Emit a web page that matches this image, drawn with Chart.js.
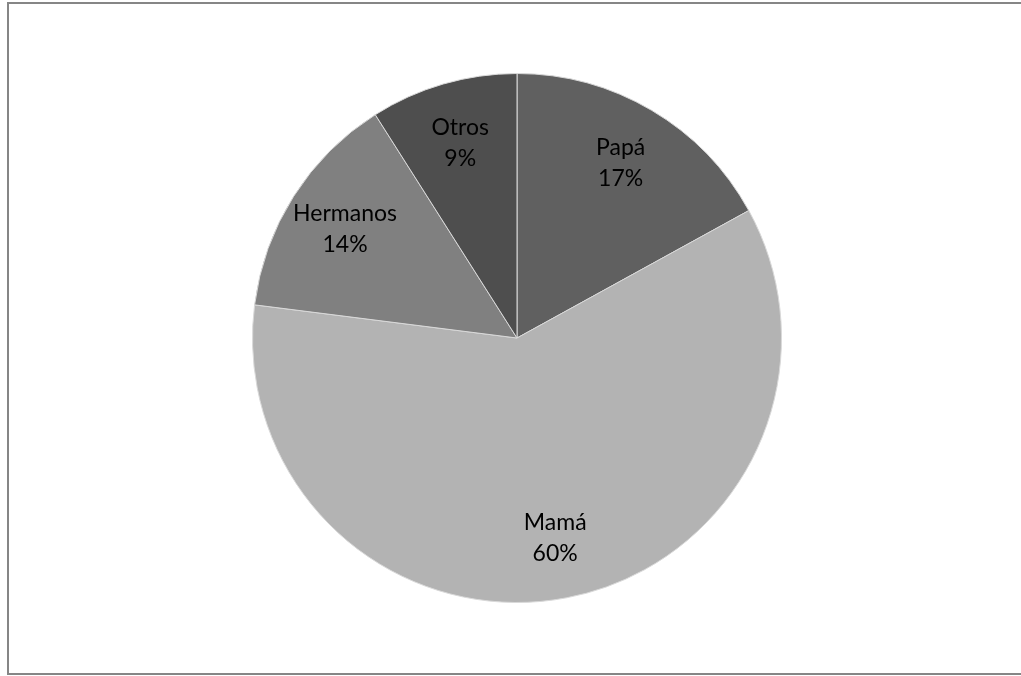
<!DOCTYPE html>
<html>
<head>
<meta charset="utf-8">
<script src="https://cdn.jsdelivr.net/npm/chart.js@4.4.1/dist/chart.umd.min.js"></script>
<style>
html,body{margin:0;padding:0;background:#fff;}
canvas{display:block;}
</style>
</head>
<body>
<canvas id="c" width="1021" height="676"></canvas>
<script>
const categories = ["Papá", "Mamá", "Hermanos", "Otros"];
const values = [17, 60, 14, 9];
const percentLabels = ["17%", "60%", "14%", "9%"];
const sliceColors = ["#606060", "#b3b3b3", "#808080", "#4e4e4e"];

const frame = {
  id: 'frame',
  beforeDraw(chart) {
    const ctx = chart.ctx;
    ctx.save();
    ctx.fillStyle = '#ffffff';
    ctx.fillRect(0, 0, chart.width, chart.height);
    ctx.strokeStyle = '#868686';
    ctx.lineWidth = 2;
    ctx.strokeRect(8, 3, chart.width + 10, 671);
    ctx.restore();
  }
};

const sliceLabels = {
  id: 'sliceLabels',
  afterDatasetsDraw(chart) {
    const ctx = chart.ctx;
    const meta = chart.getDatasetMeta(0);
    ctx.save();
    ctx.fillStyle = '#000000';
    ctx.font = '23px Lato, "Open Sans", sans-serif';
    ctx.textAlign = 'center';
    ctx.textBaseline = 'middle';
    meta.data.forEach((arc, i) => {
      const mid = (arc.startAngle + arc.endAngle) / 2;
      const r = arc.outerRadius * 0.77;
      const x = arc.x + Math.cos(mid) * r;
      const y = arc.y + Math.sin(mid) * r;
      ctx.fillText(categories[i], x, y - 15);
      ctx.fillText(percentLabels[i], x, y + 16);
    });
    ctx.restore();
  }
};

new Chart(document.getElementById('c'), {
  type: 'pie',
  data: {
    labels: categories,
    datasets: [{
      data: values,
      backgroundColor: sliceColors,
      borderColor: '#d9d9d9',
      borderWidth: 1
    }]
  },
  options: {
    responsive: false,
    animation: false,
    layout: { padding: { top: 73, bottom: 73, left: 252, right: 239 } },
    plugins: { legend: { display: false }, tooltip: { enabled: false } }
  },
  plugins: [frame, sliceLabels]
});
</script>
</body>
</html>
